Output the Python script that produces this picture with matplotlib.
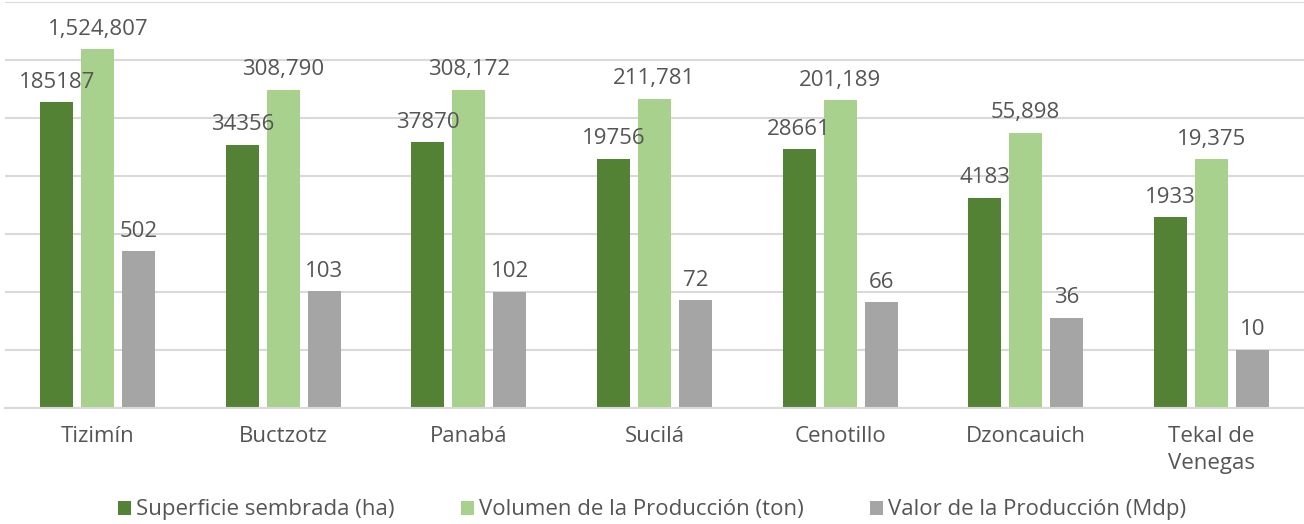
import matplotlib

matplotlib.use("Agg")
import matplotlib.pyplot as plt
import numpy as np

municipios = ["Tizimín", "Buctzotz", "Panabá", "Sucilá", "Cenotillo",
              "Dzoncauich", "Tekal de\nVenegas"]
superficie = [185187, 34356, 37870, 19756, 28661, 4183, 1933]
volumen = [1524807, 308790, 308172, 211781, 201189, 55898, 19375]
valor = [502, 103, 102, 72, 66, 36, 10]

series_labels = ["Superficie sembrada (ha)", "Volumen de la Producción (ton)",
                 "Valor de la Producción (Mdp)"]
colors = ["#548235", "#A9D18E", "#A5A5A5"]
text_color = "#555555"

plt.rcParams["font.family"] = ["Open Sans", "DejaVu Sans"]

fig = plt.figure(figsize=(13.04, 5.24), dpi=100)
ax = fig.add_axes([5 / 1304, 1 - 408 / 524, 1299 / 1304, 406 / 524])

x = np.arange(len(municipios))
width = 0.178
step = 0.221
data = [superficie, volumen, valor]
formats = ["{:d}", "{:,d}", "{:d}"]
for i, (vals, color, label, fmt) in enumerate(zip(data, colors, series_labels, formats)):
    pos = x + (i - 1) * step
    ax.bar(pos, vals, width=width, color=color, label=label, zorder=2)
    for px, v in zip(pos, vals):
        ax.annotate(fmt.format(v), (px, v), xytext=(0, 7), textcoords="offset points",
                    ha="center", va="bottom", fontsize=16, color=text_color)

ax.set_yscale("log")
ax.set_ylim(1, 1e7)
ax.set_xlim(-0.5, len(municipios) - 0.5)
ax.set_yticks([10 ** k for k in range(8)])
ax.yaxis.set_minor_locator(matplotlib.ticker.NullLocator())
ax.set_yticklabels([])
ax.tick_params(axis="y", length=0)
ax.tick_params(axis="x", length=0, pad=13, labelsize=16, labelcolor=text_color)
ax.set_xticks(x)
ax.set_xticklabels(municipios, linespacing=1.35)
ax.grid(True, axis="y", color="#D9D9D9", linewidth=1.5, zorder=0)
for side in ["top", "right", "left"]:
    ax.spines[side].set_visible(False)
ax.spines["bottom"].set_color("#D9D9D9")
ax.spines["bottom"].set_linewidth(1.5)

fig.legend(loc="center", bbox_to_anchor=(0.5, 1 - 510 / 524), ncol=3, frameon=False,
           fontsize=16, handlelength=0.6, handleheight=0.6, handletextpad=0.2,
           columnspacing=3.0, labelcolor=text_color)

fig.savefig("out.png", dpi=100)
